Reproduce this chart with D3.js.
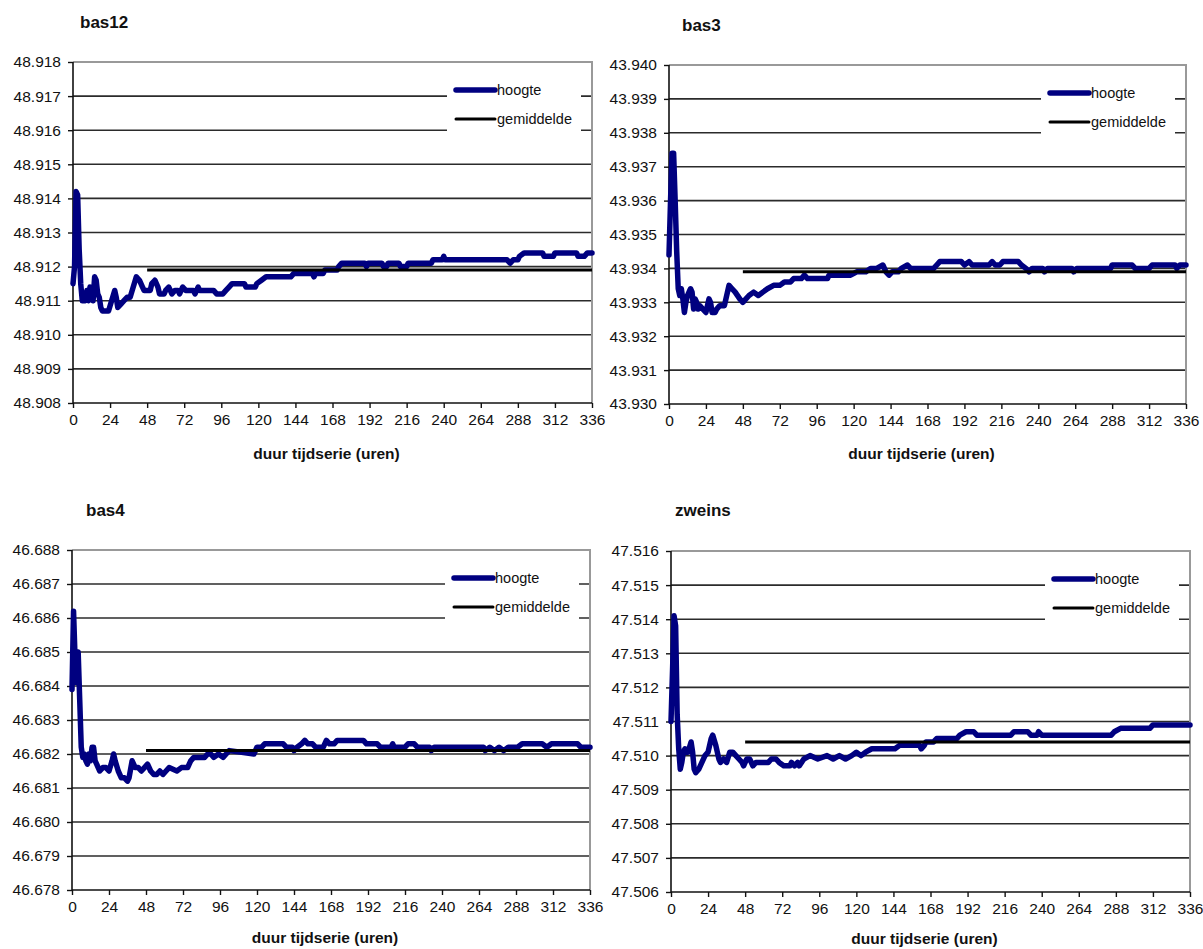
<!DOCTYPE html>
<html>
<head>
<meta charset="utf-8">
<script src="https://cdn.jsdelivr.net/npm/d3@7"></script>
<style>
  html, body { margin: 0; padding: 0; background: #fff; }
  svg { display: block; }
  text { font-family: "Liberation Sans", Arial, sans-serif; fill: #111; }
</style>
</head>
<body>
<svg id="chart" width="1203" height="949"></svg>
<script>
// ---------- data ----------
const titles = ["bas12", "bas3", "bas4", "zweins"];
const seriesNames = ["hoogte", "gemiddelde"];
const xAxisTitle = "duur tijdserie (uren)";
const xTicks = [0, 24, 48, 72, 96, 120, 144, 168, 192, 216, 240, 264, 288, 312, 336];

const bas12YTicks = [48.908, 48.909, 48.910, 48.911, 48.912, 48.913, 48.914, 48.915, 48.916, 48.917, 48.918];
const bas3YTicks  = [43.930, 43.931, 43.932, 43.933, 43.934, 43.935, 43.936, 43.937, 43.938, 43.939, 43.940];
const bas4YTicks  = [46.678, 46.679, 46.680, 46.681, 46.682, 46.683, 46.684, 46.685, 46.686, 46.687, 46.688];
const zweinsYTicks = [47.506, 47.507, 47.508, 47.509, 47.510, 47.511, 47.512, 47.513, 47.514, 47.515, 47.516];

const meanStart = 48, meanEnd = 336;
const bas12Mean = 48.9119;
const bas3Mean = 43.9339;
const bas4Mean = 46.6821;
const zweinsMean = 47.5104;

const bas12Hours = [0,1,2,3,4,5,6,8,9,10,11,12,13,14,15,16,17,18,19,23,25,27,28,29,31,33,35,37,39,41,43,45,46,50,51,53,55,56,59,60,62,63,64,66,68,69,71,73,78,79,81,82,91,93,97,99,101,103,111,112,118,119,122,125,141,143,155,156,157,162,163,171,172,174,189,190,191,200,201,203,204,211,212,216,217,232,233,239,240,241,281,283,285,288,289,292,304,305,311,312,326,327,331,333,336];
const bas12Values = [48.9115,48.9120,48.9142,48.9141,48.9125,48.9115,48.9110,48.9110,48.9113,48.9110,48.9114,48.9112,48.9110,48.9117,48.9116,48.9112,48.9111,48.9108,48.9107,48.9107,48.9110,48.9113,48.9111,48.9108,48.9109,48.9110,48.9111,48.9111,48.9114,48.9117,48.9116,48.9114,48.9113,48.9113,48.9115,48.9116,48.9114,48.9112,48.9112,48.9113,48.9114,48.9113,48.9112,48.9113,48.9113,48.9112,48.9114,48.9113,48.9113,48.9112,48.9114,48.9113,48.9113,48.9112,48.9112,48.9113,48.9114,48.9115,48.9115,48.9114,48.9114,48.9115,48.9116,48.9117,48.9117,48.9118,48.9118,48.9117,48.9118,48.9118,48.9119,48.9119,48.9120,48.9121,48.9121,48.9120,48.9121,48.9121,48.9120,48.9120,48.9121,48.9121,48.9120,48.9120,48.9121,48.9121,48.9122,48.9122,48.9123,48.9122,48.9122,48.9121,48.9122,48.9122,48.9123,48.9124,48.9124,48.9123,48.9123,48.9124,48.9124,48.9123,48.9123,48.9124,48.9124];

const bas3Hours = [0,1,2,3,4,5,6,7,8,9,10,11,12,13,14,15,16,17,18,19,20,22,24,25,26,27,28,30,31,33,36,38,39,41,43,46,48,50,52,55,58,61,64,68,72,75,79,81,86,88,90,103,104,112,118,122,128,131,135,139,141,143,145,149,151,155,157,172,174,176,190,192,195,197,208,210,212,215,217,227,229,232,234,236,243,244,246,262,263,265,287,288,301,303,312,314,329,330,332,336];
const bas3Values = [43.9344,43.9360,43.9374,43.9374,43.9360,43.9345,43.9334,43.9332,43.9334,43.9331,43.9327,43.9330,43.9332,43.9333,43.9334,43.9333,43.9328,43.9331,43.9330,43.9328,43.9329,43.9328,43.9327,43.9329,43.9331,43.9330,43.9327,43.9327,43.9328,43.9329,43.9329,43.9333,43.9335,43.9334,43.9333,43.9331,43.9330,43.9331,43.9332,43.9333,43.9332,43.9333,43.9334,43.9335,43.9335,43.9336,43.9336,43.9337,43.9337,43.9338,43.9337,43.9337,43.9338,43.9338,43.9338,43.9339,43.9339,43.9340,43.9340,43.9341,43.9339,43.9338,43.9339,43.9339,43.9340,43.9341,43.9340,43.9340,43.9341,43.9342,43.9342,43.9341,43.9342,43.9341,43.9341,43.9342,43.9341,43.9341,43.9342,43.9342,43.9341,43.9340,43.9339,43.9340,43.9340,43.9339,43.9340,43.9340,43.9339,43.9340,43.9340,43.9341,43.9341,43.9340,43.9340,43.9341,43.9341,43.9340,43.9341,43.9341];

const bas4Hours = [0,1,2,3,4,5,6,7,8,9,10,11,12,13,14,15,16,17,18,20,22,24,26,27,28,30,32,34,36,37,39,41,43,45,47,49,51,53,55,57,59,61,63,68,71,75,77,79,86,88,90,92,95,98,100,102,118,120,123,125,137,139,143,144,146,149,151,153,156,158,163,165,167,170,172,189,191,198,200,207,208,209,216,218,222,224,232,233,235,267,268,271,274,277,280,283,289,292,305,308,311,328,330,333,336];
const bas4Values = [46.6839,46.6862,46.6848,46.6841,46.6850,46.6836,46.6822,46.6819,46.6820,46.6818,46.6817,46.6820,46.6818,46.6822,46.6822,46.6818,46.6817,46.6816,46.6815,46.6816,46.6816,46.6815,46.6818,46.6820,46.6818,46.6815,46.6813,46.6813,46.6812,46.6813,46.6818,46.6816,46.6816,46.6815,46.6816,46.6817,46.6815,46.6814,46.6814,46.6815,46.6814,46.6815,46.6816,46.6815,46.6816,46.6816,46.6818,46.6819,46.6819,46.6820,46.6820,46.6819,46.6820,46.6819,46.6820,46.6821,46.6820,46.6822,46.6822,46.6823,46.6823,46.6822,46.6822,46.6821,46.6822,46.6823,46.6824,46.6823,46.6823,46.6822,46.6822,46.6824,46.6823,46.6823,46.6824,46.6824,46.6823,46.6823,46.6822,46.6822,46.6823,46.6822,46.6822,46.6823,46.6823,46.6822,46.6822,46.6821,46.6822,46.6822,46.6821,46.6822,46.6821,46.6822,46.6821,46.6822,46.6822,46.6823,46.6823,46.6822,46.6823,46.6823,46.6822,46.6822,46.6822];

const zweinsHours = [0,1,2,3,4,5,6,7,8,9,10,11,13,14,15,16,18,20,22,24,26,27,29,31,32,34,36,38,40,42,44,46,47,49,51,53,55,63,65,68,70,73,77,78,80,82,83,86,90,95,101,105,109,113,117,120,123,126,130,145,148,161,162,164,165,170,172,185,187,191,196,198,220,222,231,233,237,238,240,285,287,291,310,312,336];
const zweinsValues = [47.5110,47.5125,47.5141,47.5138,47.5112,47.5102,47.5096,47.5098,47.5101,47.5102,47.5101,47.5101,47.5104,47.5101,47.5096,47.5095,47.5096,47.5098,47.5100,47.5101,47.5105,47.5106,47.5103,47.5099,47.5098,47.5099,47.5098,47.5101,47.5101,47.5100,47.5099,47.5098,47.5097,47.5099,47.5099,47.5097,47.5098,47.5098,47.5099,47.5099,47.5098,47.5097,47.5097,47.5098,47.5097,47.5098,47.5097,47.5099,47.5100,47.5099,47.5100,47.5099,47.5100,47.5099,47.5100,47.5101,47.5100,47.5101,47.5102,47.5102,47.5103,47.5103,47.5102,47.5103,47.5104,47.5104,47.5105,47.5105,47.5106,47.5107,47.5107,47.5106,47.5106,47.5107,47.5107,47.5106,47.5106,47.5107,47.5106,47.5106,47.5107,47.5108,47.5108,47.5109,47.5109];

// ---------- layout ----------
const panels = [
  { title: titles[0], hours: bas12Hours, values: bas12Values, mean: bas12Mean, yTicks: bas12YTicks,
    x0: 73, x1: 592, y0: 62, y1: 403, titleX: 80, titleY: 28, axisTitleY: 459 },
  { title: titles[1], hours: bas3Hours, values: bas3Values, mean: bas3Mean, yTicks: bas3YTicks,
    x0: 669, x1: 1186, y0: 65, y1: 404, titleX: 682, titleY: 31, axisTitleY: 459 },
  { title: titles[2], hours: bas4Hours, values: bas4Values, mean: bas4Mean, yTicks: bas4YTicks,
    x0: 72, x1: 590, y0: 550, y1: 890, titleX: 86, titleY: 516, axisTitleY: 943 },
  { title: titles[3], hours: zweinsHours, values: zweinsValues, mean: zweinsMean, yTicks: zweinsYTicks,
    x0: 671, x1: 1190, y0: 551, y1: 892, titleX: 675, titleY: 516, axisTitleY: 944 }
];

const svg = d3.select("#chart");

panels.forEach(p => {
  const x = d3.scaleLinear().domain([0, 336]).range([p.x0, p.x1]);
  const y = d3.scaleLinear().domain([p.yTicks[0], p.yTicks[p.yTicks.length - 1]]).range([p.y1, p.y0]);
  const g = svg.append("g");

  // gridlines
  g.append("g").selectAll("line")
    .data(p.yTicks.slice(1, -1))
    .join("line")
    .attr("x1", p.x0).attr("x2", p.x1)
    .attr("y1", d => y(d)).attr("y2", d => y(d))
    .attr("stroke", "#2b2b2b").attr("stroke-width", 1.6);

  // plot border (top & right, gray)
  g.append("path")
    .attr("d", `M${p.x0},${p.y0}H${p.x1}V${p.y1}`)
    .attr("fill", "none").attr("stroke", "#999").attr("stroke-width", 2);

  // axes
  const yAxis = g.append("g").attr("transform", `translate(${p.x0},0)`)
    .call(d3.axisLeft(y).tickValues(p.yTicks).tickSize(5).tickPadding(7).tickFormat(d3.format(".3f")));
  const xAxis = g.append("g").attr("transform", `translate(0,${p.y1})`)
    .call(d3.axisBottom(x).tickValues(xTicks).tickSize(5).tickPadding(6).tickFormat(d3.format("d")));
  [yAxis, xAxis].forEach(a => {
    a.select(".domain").attr("stroke", "#111").attr("stroke-width", 1.6);
    a.selectAll(".tick line").attr("stroke", "#111").attr("stroke-width", 1.4);
    a.selectAll(".tick text").attr("font-size", "15.5px").attr("fill", "#111")
      .attr("font-family", "'Liberation Sans', Arial, sans-serif");
  });
  yAxis.select(".domain").attr("d", `M0,${p.y0}V${p.y1}`);
  xAxis.select(".domain").attr("d", `M${p.x0},0H${p.x1}`);

  // hoogte series
  const pts = p.hours.map((h, i) => [h, p.values[i]]);
  g.append("path")
    .datum(pts)
    .attr("fill", "none")
    .attr("stroke", "#000080")
    .attr("stroke-width", 5.5)
    .attr("stroke-linejoin", "round")
    .attr("stroke-linecap", "round")
    .attr("d", d3.line().x(d => x(d[0])).y(d => y(d[1])));

  // gemiddelde
  g.append("line")
    .attr("x1", x(meanStart)).attr("x2", x(meanEnd))
    .attr("y1", y(p.mean)).attr("y2", y(p.mean))
    .attr("stroke", "#000").attr("stroke-width", 3);

  // legend
  const lx = p.x1 - 145, ly = p.y0;
  g.append("rect").attr("x", lx).attr("y", ly + 12).attr("width", 134).attr("height", 66).attr("fill", "#fff");
  const legendItems = [
    { name: seriesNames[0], color: "#000080", w: 5.5, dy: 28 },
    { name: seriesNames[1], color: "#000", w: 3, dy: 57 }
  ];
  legendItems.forEach(it => {
    g.append("line").attr("x1", lx + 9).attr("x2", lx + 48)
      .attr("y1", ly + it.dy).attr("y2", ly + it.dy)
      .attr("stroke", it.color).attr("stroke-width", it.w).attr("stroke-linecap", "round");
    g.append("text").attr("x", lx + 50).attr("y", ly + it.dy).attr("dy", "0.35em")
      .attr("font-size", "14.5px").text(it.name);
  });

  // titles
  g.append("text").attr("x", p.titleX).attr("y", p.titleY)
    .attr("font-size", "17px").attr("font-weight", "bold").text(p.title);
  g.append("text").attr("x", (p.x0 + p.x1) / 2 - 6).attr("y", p.axisTitleY)
    .attr("text-anchor", "middle").attr("font-size", "15.5px").attr("font-weight", "bold")
    .text(xAxisTitle);
});
</script>
</body>
</html>
